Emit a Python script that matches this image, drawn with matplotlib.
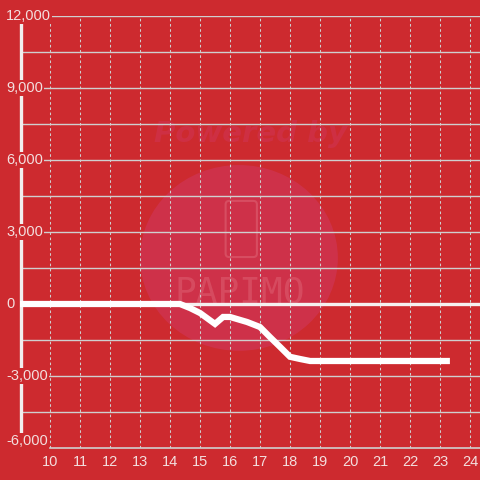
import numpy as np
import matplotlib.pyplot as plt
from matplotlib.patches import Circle, FancyBboxPatch
from matplotlib.transforms import blended_transform_factory

# balance over the day (hour -> value)
hours = [9.0, 14.33, 14.67, 15.0, 15.5, 15.77, 16.0, 16.57, 17.0, 17.33,
         17.67, 18.0, 18.33, 18.67, 23.33]
values = [0, 0, -170, -375, -830, -540, -540, -750, -960, -1375,
          -1790, -2200, -2290, -2375, -2375]

x_ticks = list(range(10, 25))
y_ticks = [-6000, -3000, 0, 3000, 6000, 9000, 12000]
y_grid = np.arange(-4500, 12001, 1500)

bg = '#cd2a2f'
grid_col = '#cfcfcf'
txt_col = '#f3dede'

fig = plt.figure(figsize=(4.8, 4.8), dpi=100, facecolor=bg)
ax = fig.add_axes([20 / 480, 32 / 480, 460 / 480, 432 / 480])
ax.set_facecolor(bg)
ax.set_xlim(9, 24.333)
ax.set_ylim(-6000, 12000)
for s in ax.spines.values():
    s.set_visible(False)
ax.set_xticks([])
ax.set_yticks([])

# watermark
wm = Circle((0.476, 0.44), 0.215, transform=ax.transAxes,
            facecolor='#d03a6a', alpha=0.45, edgecolor='none', zorder=0.5)
ax.add_patch(wm)
ax.text(0.5, 0.727, 'Powered by', transform=ax.transAxes, ha='center', va='center',
        fontsize=21, fontweight='bold', style='italic', color='#d03a6a', alpha=0.35,
        zorder=0.6)
ax.text(0.478, 0.36, 'PAPIMO', transform=ax.transAxes, ha='center', va='center',
        fontsize=26, family='DejaVu Sans Mono', color='#e06a7a', alpha=0.45,
        zorder=0.6)
phone = FancyBboxPatch((0.447, 0.442), 0.068, 0.13, transform=ax.transAxes,
                       boxstyle='round,pad=0,rounding_size=0.008', facecolor='none',
                       edgecolor='#e06a7a', alpha=0.5, lw=1.5, zorder=0.6)
ax.add_patch(phone)

# grid
for g in y_grid:
    ax.axhline(g, color=grid_col, lw=1, zorder=1)
ax.plot([10, 24.333], [-6000, -6000], color=grid_col, lw=1.2, zorder=1, clip_on=False)
for xt in x_ticks:
    ax.plot([xt, xt], [-6000, 12000], color=grid_col, lw=0.75,
            dashes=(2.5, 2.5), zorder=1)

# zero line and y axis line
ax.axhline(0, color='#f5f0f0', lw=2.4, zorder=2)
ax.plot([9.03, 9.03], [-5400, 11700], color='#f2eeee', lw=2.4, zorder=2,
        solid_capstyle='butt', clip_on=False)

# data
ax.plot(hours, values, color='white', lw=4.5, zorder=3,
        solid_capstyle='butt', solid_joinstyle='miter')

# tick labels
tr = blended_transform_factory(fig.transFigure, ax.transData)
for yt in y_ticks:
    ax.text(6 / 480, yt, f'{yt:,}', transform=tr, ha='left',
            va='bottom' if yt == -6000 else 'center',
            fontsize=10.5, family='Liberation Sans', color=txt_col, zorder=4,
            bbox=dict(facecolor=bg, edgecolor='none', pad=1))
for xt in x_ticks:
    ax.text(xt, -6000 - 280, str(xt), ha='center', va='top', fontsize=10.5,
            family='Liberation Sans', color=txt_col, clip_on=False)

fig.savefig('out.png', dpi=100, facecolor=bg)
